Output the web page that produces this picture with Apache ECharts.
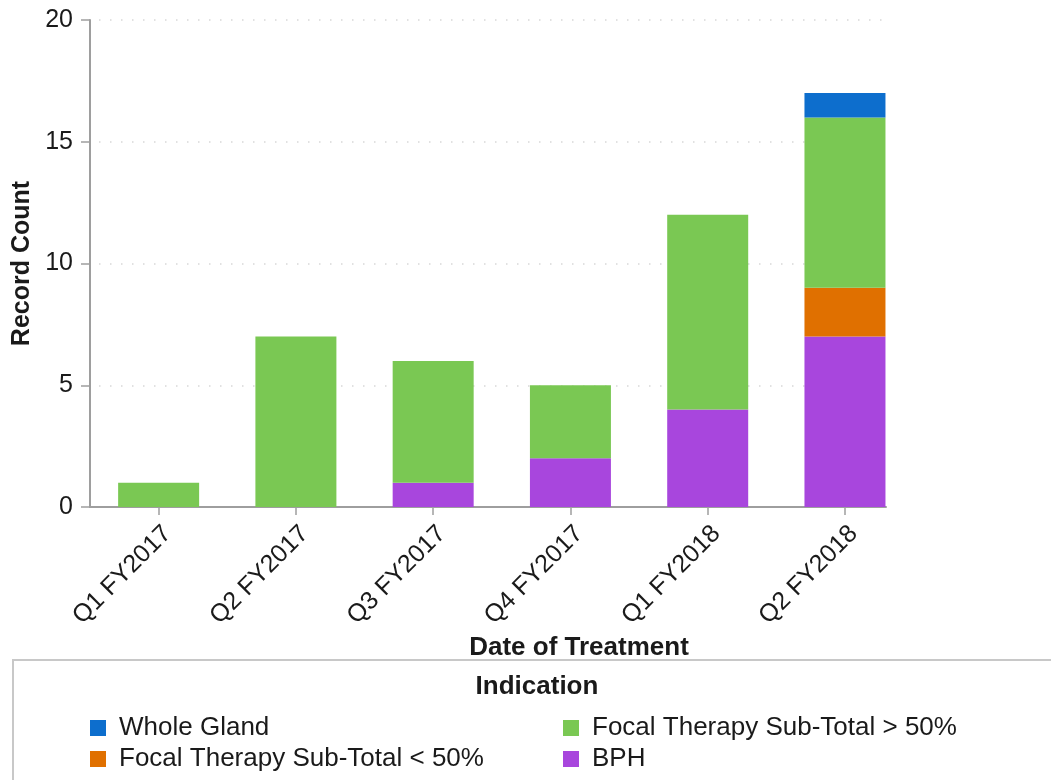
<!DOCTYPE html>
<html>
<head>
<meta charset="utf-8">
<script src="https://cdn.jsdelivr.net/npm/echarts@6/dist/echarts.min.js"></script>
<style>
html, body { margin: 0; padding: 0; background: #fff; }
#chart { width: 1051px; height: 780px; }
</style>
</head>
<body>
<div id="chart"></div>
<script>
var categories = ["Q1 FY2017", "Q2 FY2017", "Q3 FY2017", "Q4 FY2017", "Q1 FY2018", "Q2 FY2018"];
var wholeGland = [0, 0, 0, 0, 0, 1];
var focalOver50 = [1, 7, 5, 3, 8, 7];
var focalUnder50 = [0, 0, 0, 0, 0, 2];
var bph = [0, 0, 1, 2, 4, 7];

var font = "'Liberation Sans', Arial, sans-serif";
var axisGray = "#9e9e9e";
var textColor = "#1a1a1a";

var myChart = echarts.init(document.getElementById("chart"));

var legendText = { fontSize: 26, color: textColor, fontFamily: font, padding: [0, 0, 0, 8] };

var option = {
    animation: false,
    textStyle: { fontFamily: font },
    title: [
        {
            text: "Date of Treatment",
            left: 574,
            top: 630,
            textAlign: "center",
            textStyle: { fontSize: 26, fontWeight: "bold", color: textColor, fontFamily: font }
        },
        {
            text: "Indication",
            left: 532,
            top: 669,
            textAlign: "center",
            textStyle: { fontSize: 26, fontWeight: "bold", color: textColor, fontFamily: font }
        }
    ],
    graphic: [
        {
            type: "rect",
            shape: { x: 13, y: 660, width: 1060, height: 140 },
            style: { fill: "none", stroke: "#c8c8c8", lineWidth: 2 }
        }
    ],
    legend: [
        {
            orient: "vertical",
            left: 85,
            top: 710,
            itemWidth: 16,
            itemHeight: 16,
            itemGap: 5,
            icon: "rect",
            textStyle: legendText,
            data: ["Whole Gland", "Focal Therapy Sub-Total < 50%"]
        },
        {
            orient: "vertical",
            left: 558,
            top: 710,
            itemWidth: 16,
            itemHeight: 16,
            itemGap: 5,
            icon: "rect",
            textStyle: legendText,
            data: ["Focal Therapy Sub-Total > 50%", "BPH"]
        }
    ],
    grid: [
        // bars: category bands run past the visible axis end
        { left: 90, right: 137.4, top: 20, bottom: 273, containLabel: false },
        // visible axis line and dotted guides
        { left: 90, right: 165, top: 20, bottom: 273, containLabel: false }
    ],
    xAxis: [
        {
            type: "category",
            gridIndex: 0,
            data: categories,
            axisLine: { show: false },
            axisTick: { show: true, alignWithLabel: true, length: 8, lineStyle: { color: axisGray, width: 1.5 } },
            axisLabel: {
                rotate: 45,
                fontSize: 25,
                color: textColor,
                margin: 14,
                verticalAlign: "top"
            },
            splitLine: { show: false }
        },
        {
            type: "value",
            gridIndex: 1,
            axisLine: { show: true, lineStyle: { color: axisGray, width: 2 } },
            axisTick: { show: false },
            axisLabel: { show: false },
            splitLine: { show: false }
        }
    ],
    yAxis: [
        {
            type: "value",
            gridIndex: 0,
            min: 0,
            max: 20,
            interval: 5,
            name: "Record Count",
            nameLocation: "middle",
            nameGap: 46,
            nameTextStyle: { fontSize: 25, fontWeight: "bold", color: textColor, fontFamily: font },
            axisLine: { show: true, lineStyle: { color: axisGray, width: 2 } },
            axisTick: { show: true, length: 9, lineStyle: { color: axisGray, width: 1.5 } },
            axisLabel: { fontSize: 25, color: textColor, margin: 17 },
            splitLine: { show: false }
        },
        {
            type: "value",
            gridIndex: 1,
            min: 0,
            max: 20,
            interval: 5,
            axisLine: { show: false },
            axisTick: { show: false },
            axisLabel: { show: false },
            splitLine: { show: true, lineStyle: { color: "#d8d8d8", type: [1.5, 9.5], width: 1.5, dashOffset: -9 } }
        }
    ],
    series: [
        {
            name: "BPH",
            type: "bar",
            stack: "total",
            barWidth: 81,
            itemStyle: { color: "#a846dd" },
            data: bph
        },
        {
            name: "Focal Therapy Sub-Total < 50%",
            type: "bar",
            stack: "total",
            barWidth: 81,
            itemStyle: { color: "#e07000" },
            data: focalUnder50
        },
        {
            name: "Focal Therapy Sub-Total > 50%",
            type: "bar",
            stack: "total",
            barWidth: 81,
            itemStyle: { color: "#7ac853" },
            data: focalOver50
        },
        {
            name: "Whole Gland",
            type: "bar",
            stack: "total",
            barWidth: 81,
            itemStyle: { color: "#0d6ecd" },
            data: wholeGland
        }
    ]
};

myChart.setOption(option);
</script>
</body>
</html>
